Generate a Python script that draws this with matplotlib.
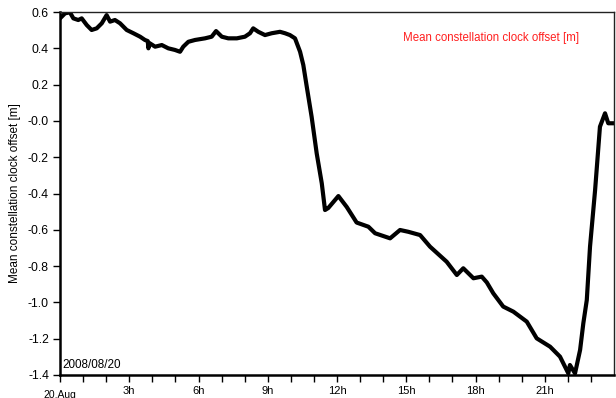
import matplotlib
matplotlib.use('Agg')
import matplotlib.pyplot as plt
import numpy as np

# hours after 2008/08/20 00:00 and mean clock offset [m]
hours = [0.00, 0.22, 0.43, 0.58, 0.79, 0.94, 1.16, 1.37, 1.59, 1.81,
         2.02, 2.17, 2.38, 2.60, 2.89, 3.18, 3.47, 3.68, 3.80, 3.83,
         3.86, 4.12, 4.41, 4.69, 4.98, 5.20, 5.34, 5.56, 5.85, 6.28,
         6.57, 6.76, 7.01, 7.29, 7.66, 8.01, 8.23, 8.37, 8.59, 8.88,
         9.17, 9.53, 9.75, 9.96, 10.18, 10.40, 10.54, 10.69, 10.90, 11.12,
         11.34, 11.48, 11.62, 12.06, 12.42, 12.85, 13.36, 13.65, 14.30, 14.73,
         15.09, 15.60, 16.03, 16.75, 17.19, 17.47, 17.91, 18.27, 18.49, 18.77,
         19.20, 19.64, 20.22, 20.65, 21.23, 21.66, 22.02, 22.09, 22.31, 22.53,
         22.67, 22.82, 22.96, 23.18, 23.39, 23.61, 23.75, 23.97]
offset = [0.565, 0.593, 0.598, 0.565, 0.556, 0.565, 0.528, 0.501, 0.510, 0.538,
          0.583, 0.547, 0.556, 0.538, 0.501, 0.483, 0.464, 0.446, 0.440, 0.400,
          0.430, 0.409, 0.418, 0.400, 0.391, 0.381, 0.409, 0.436, 0.446, 0.455,
          0.464, 0.495, 0.464, 0.455, 0.455, 0.464, 0.483, 0.510, 0.491, 0.473,
          0.483, 0.491, 0.483, 0.473, 0.455, 0.381, 0.308, 0.188, 0.023, -0.179,
          -0.344, -0.491, -0.480, -0.414, -0.474, -0.560, -0.583, -0.619, -0.647, -0.601,
          -0.611, -0.629, -0.693, -0.776, -0.849, -0.812, -0.867, -0.858, -0.890, -0.950,
          -1.023, -1.051, -1.106, -1.198, -1.244, -1.299, -1.391, -1.345, -1.391, -1.262,
          -1.115, -0.987, -0.693, -0.381, -0.032, 0.042, -0.013, -0.013]

yticks = [0.6, 0.4, 0.2, 0.0, -0.2, -0.4, -0.6, -0.8, -1.0, -1.2, -1.4]
ytick_labels = ['0.6', '0.4', '0.2', '-0.0', '-0.2', '-0.4', '-0.6', '-0.8', '-1.0', '-1.2', '-1.4']
xtick_hours = list(range(24))
xtick_labels = ['%dh' % h if h % 3 == 0 and h > 0 else '' for h in xtick_hours]

plt.rcParams['font.family'] = ['Liberation Sans', 'DejaVu Sans']

fig = plt.figure(figsize=(6.16, 3.98), dpi=100)
ax = fig.add_axes([0.0974, 0.0578, 0.8994, 0.912])

ax.plot(hours, offset, color='black', lw=3.0, solid_joinstyle='round')

ax.set_xlim(0, 24)
ax.set_ylim(-1.4, 0.6)

ax.set_xticks(xtick_hours)
ax.set_xticklabels(xtick_labels, fontsize=8)
ax.tick_params(axis='x', length=5, width=1, direction='out', pad=3)
ax.set_yticks(yticks)
ax.set_yticklabels(ytick_labels, fontsize=8.8)
ax.tick_params(axis='y', length=5, width=1, direction='out', pad=3)

for s in ['left', 'bottom']:
    ax.spines[s].set_linewidth(1.8)
for s in ['top', 'right']:
    ax.spines[s].set_linewidth(1.0)
    ax.spines[s].set_color('#222222')

ax.set_ylabel('Mean constellation clock offset [m]', fontsize=8.5, labelpad=5)
ax.text(0, -0.042, '20.Aug', transform=ax.transAxes, ha='center', va='top', fontsize=7.5)
ax.text(0.004, 0.012, '2008/08/20', transform=ax.transAxes, ha='left', va='bottom', fontsize=8.4)
ax.text(0.778, 0.928, 'Mean constellation clock offset [m]', transform=ax.transAxes,
        ha='center', va='center', fontsize=8.3, color='#ff2020')

fig.savefig('out.png', dpi=100)
